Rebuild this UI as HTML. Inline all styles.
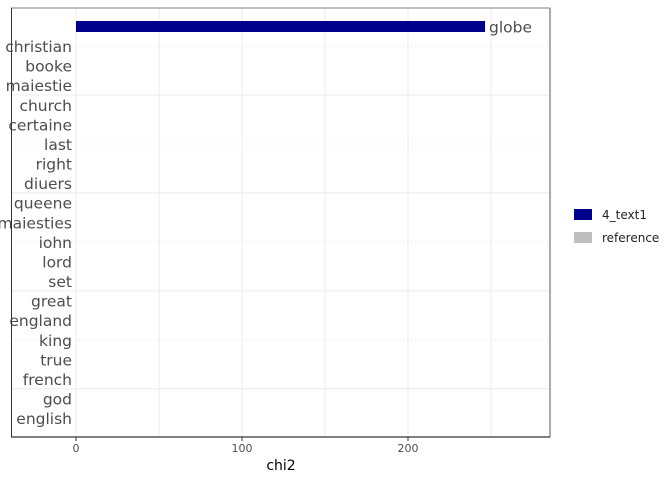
<!DOCTYPE html>
<html><head><meta charset="utf-8"><style>
body{margin:0;background:#fff;font-family:"Liberation Sans","DejaVu Sans",sans-serif}
</style></head><body>
<svg id="chart" width="672" height="480" xmlns="http://www.w3.org/2000/svg" font-family="DejaVu Sans, Liberation Sans, sans-serif">
<g id="grid"></g>
<g id="bars"></g>
<g id="labels"></g>
<line x1="11" y1="8" x2="550" y2="8" stroke="#7f7f7f" stroke-width="1"/>
<line x1="550" y1="8" x2="550" y2="437" stroke="#555" stroke-width="1"/>
<line x1="11.5" y1="8" x2="11.5" y2="437" stroke="#333" stroke-width="1"/>
<line x1="11" y1="437" x2="550" y2="437" stroke="#333" stroke-width="1.2"/>
<g id="xticks"></g>
<text x="281" y="470" font-size="14" text-anchor="middle" fill="#000">chi2</text>
<g>
<rect x="574" y="209" width="18" height="11" fill="#00008b"/>
<text x="602" y="219" font-size="12" fill="#222">4_text1</text>
<rect x="574" y="232" width="18" height="11" fill="#bebebe"/>
<text x="602" y="242" font-size="12" fill="#222">reference</text>
</g>
</svg>
<script>
const words=["globe","christian","booke","maiestie","church","certaine","last","right","diuers","queene","maiesties","iohn","lord","set","great","england","king","true","french","god","english"];
const chi2=[246.4,0,0,0,0,0,0,0,0,0,0,0,0,0,0,0,0,0,0,0,0];
const groups=["target","reference","reference","reference","reference","reference","reference","reference","reference","reference","reference","reference","reference","reference","reference","reference","reference","reference","reference","reference","reference"];
const xTicks=[0,100,200];
const xMinor=[50,150,250];
const NS="http://www.w3.org/2000/svg";
const xS=v=>76+v*1.66;
const yS=i=>26.5+i*19.58;
function mk(tag,attrs,parent){const e=document.createElementNS(NS,tag);for(const k in attrs)e.setAttribute(k,attrs[k]);document.getElementById(parent).appendChild(e);return e;}
xMinor.concat(xTicks).forEach(v=>{
 const l=mk('line',{x1:xS(v),x2:xS(v),y1:8,y2:437,stroke:'#ebebeb','stroke-width':1},'grid');
 
 
});
[1,6,11,16].forEach(i=>{
 const l=mk('line',{x1:11,x2:550,y1:yS(i),y2:yS(i),stroke:'#e0e0e0','stroke-width':1,'stroke-dasharray':'1 3'},'grid');
 
 
});
[3.5,8.5,13.5,18.5].forEach(i=>{
 const l=mk('line',{x1:11,x2:550,y1:yS(i),y2:yS(i),stroke:'#ebebeb','stroke-width':1},'grid');
 
 
});
words.forEach((w,i)=>{
 const y=yS(i);
 if(chi2[i]>0){
  const r=mk('rect',{x:xS(0),y:y-5.5,width:xS(chi2[i])-xS(0),height:11,fill:groups[i]==='target'?'#00008b':'#bebebe'},'bars');
  
  
  const t=mk('text',{x:xS(chi2[i])+4,y:y+6,'font-size':15.5,fill:'#4d4d4d'},'labels');
  t.textContent=w;
  
  
 } else {
  const t=mk('text',{x:xS(0)-4,y:y+6,'font-size':15.5,fill:'#4d4d4d','text-anchor':'end'},'labels');
  t.textContent=w;
  
  
 }
});
xTicks.forEach(v=>{
 const l=mk('line',{x1:xS(v),x2:xS(v),y1:437,y2:441,stroke:'#333'},'xticks');
 
 
 const t=mk('text',{x:xS(v),y:452,'font-size':11,fill:'#4d4d4d','text-anchor':'middle'},'xticks');
 t.textContent=v;
 
 
});
</script>
</body></html>
